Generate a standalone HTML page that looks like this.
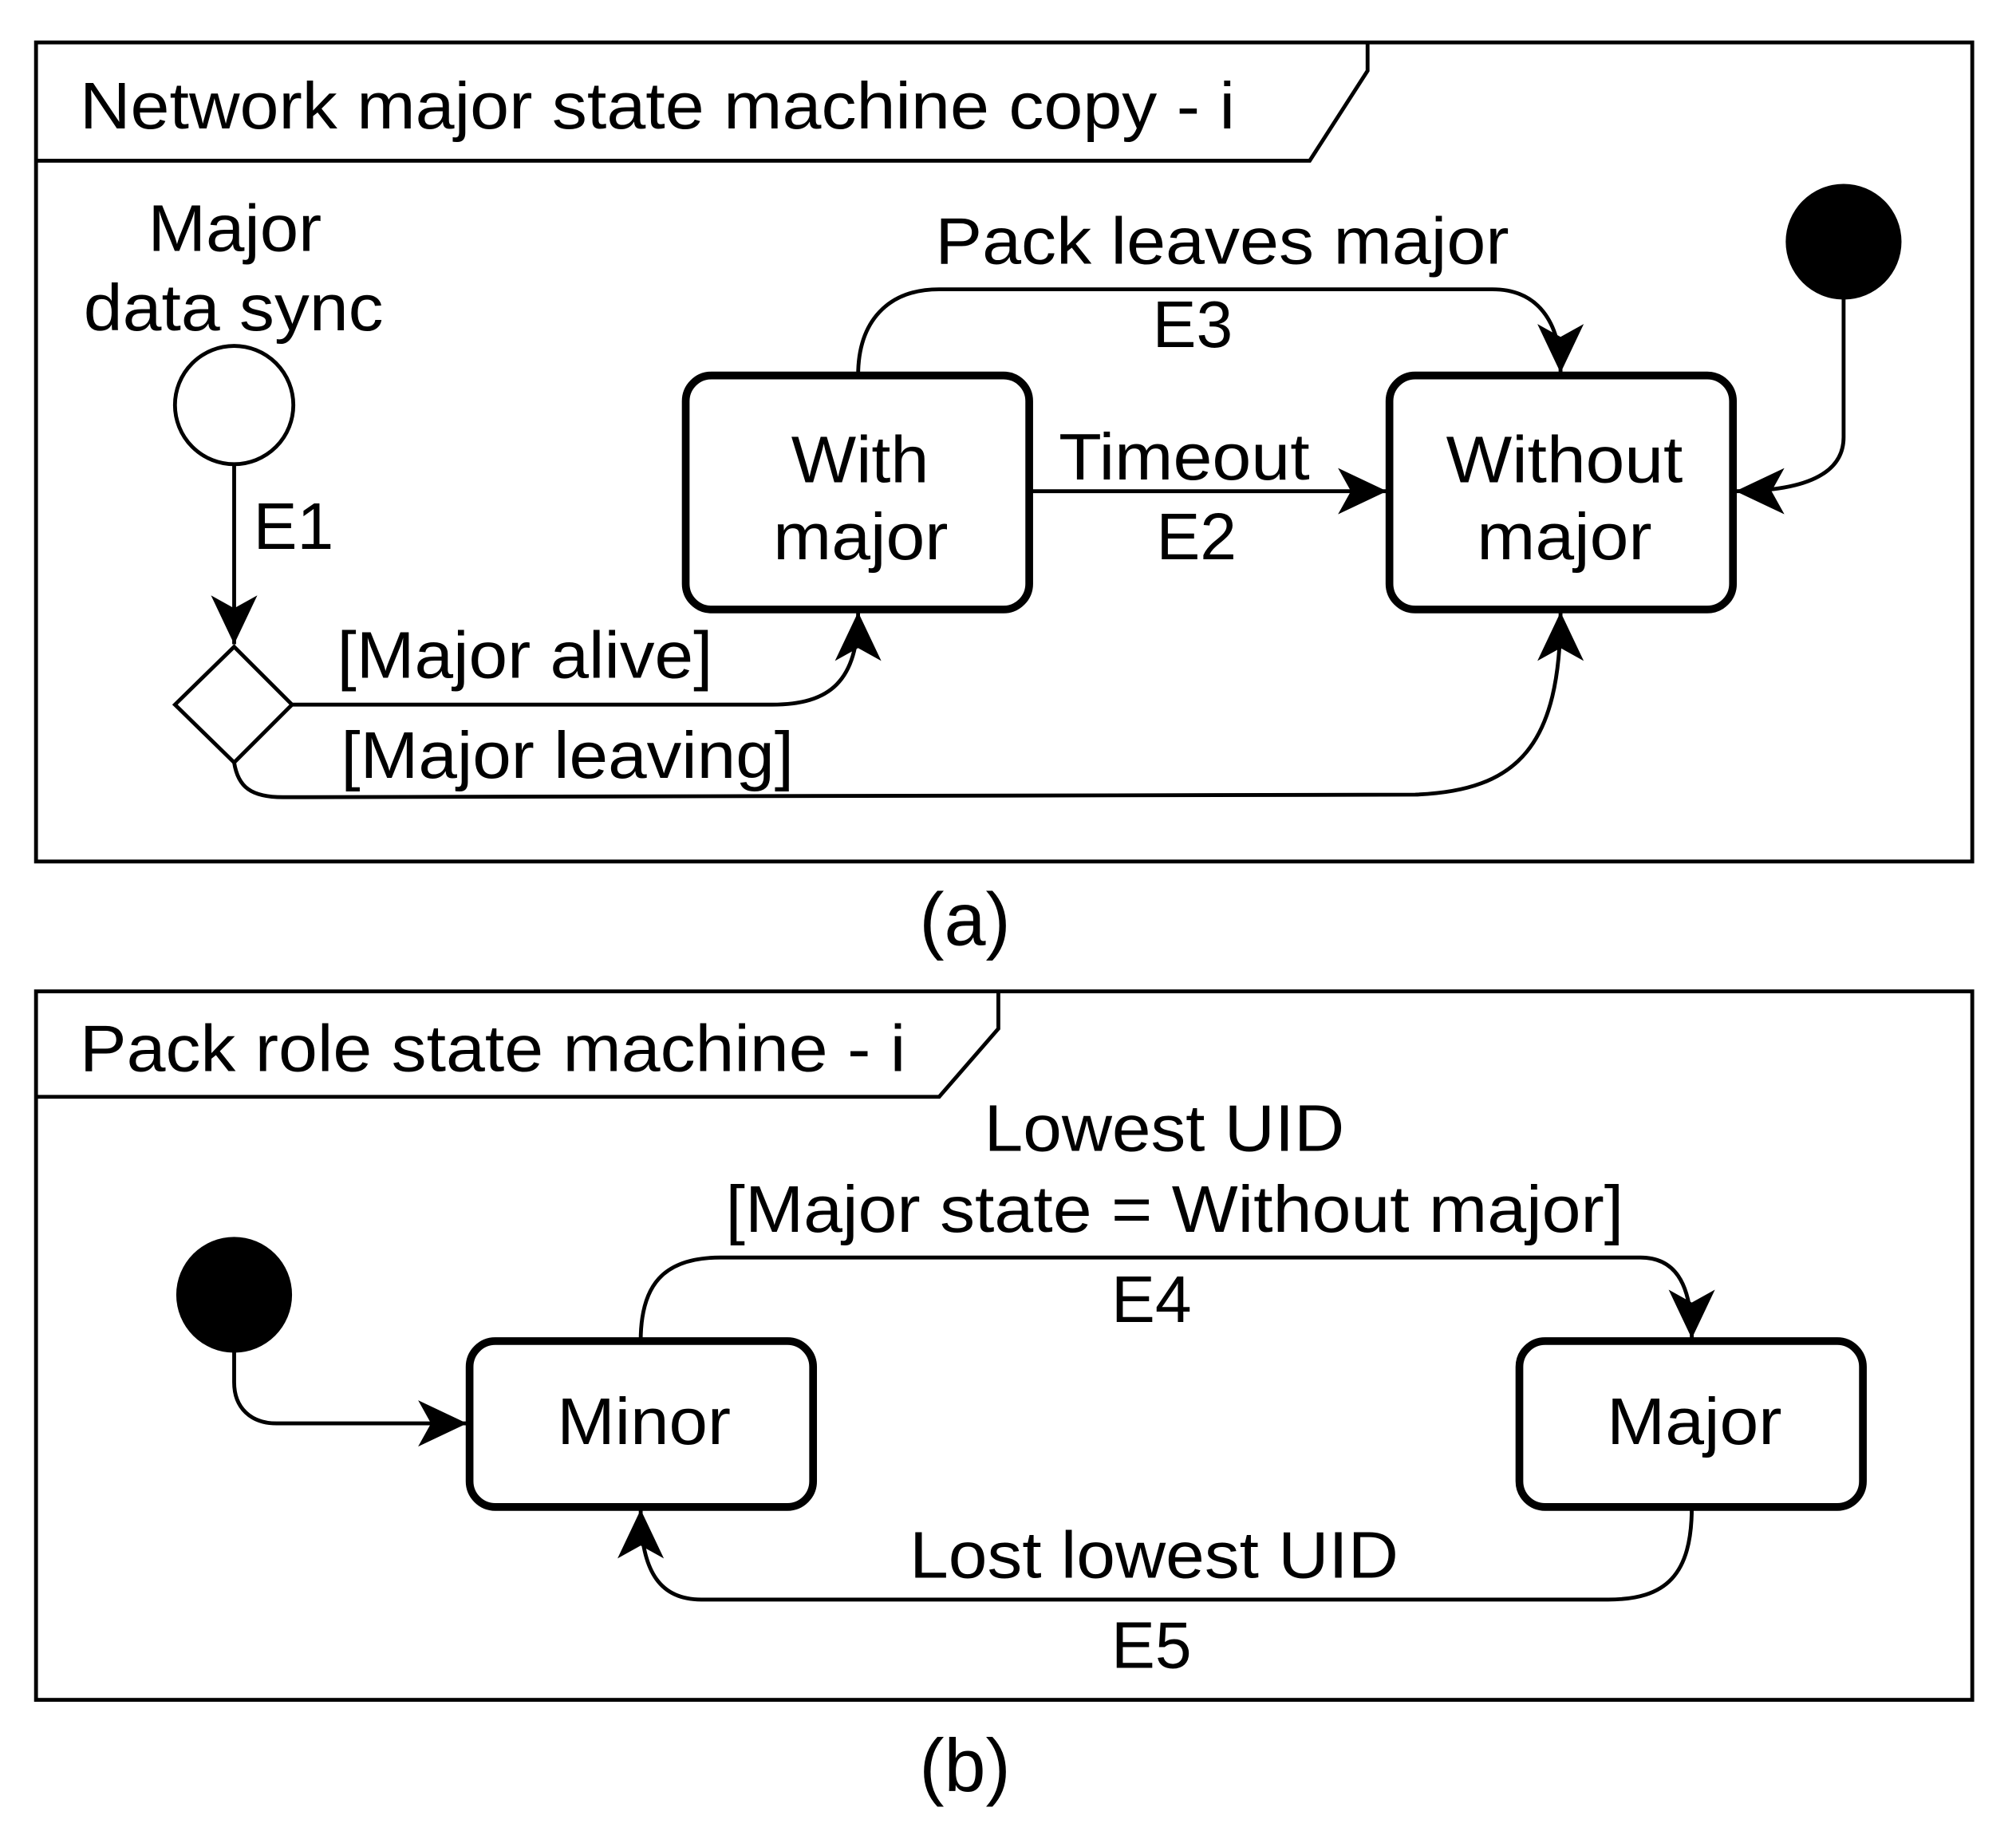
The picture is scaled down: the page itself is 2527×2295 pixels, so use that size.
<!DOCTYPE html>
<html><head><style>html,body{margin:0;padding:0;background:#fff}svg{display:block}</style></head>
<body>
<svg width="2527" height="2295" viewBox="0 0 1567 1424" preserveAspectRatio="none" xmlns="http://www.w3.org/2000/svg" font-family="Liberation Sans, sans-serif" font-size="51">
<defs>
<marker id="b" viewBox="0 0 40 40" refX="38" refY="20" markerWidth="40" markerHeight="40" markerUnits="userSpaceOnUse" orient="auto">
<path d="M0,2 L38,20 L0,38 L10,20 Z" fill="#000"/></marker>
</defs>
<g fill="none" stroke="#000">
<rect x="28" y="33" width="1505" height="637" stroke-width="3"/>
<path d="M28,125 L1018,125 L1063,55 L1063,33" stroke-width="3"/>
<circle cx="182" cy="315" r="46" stroke-width="3"/>
<path d="M182,361 L182,501" stroke-width="3" marker-end="url(#b)"/>
<path d="M182,503 L227,548 L182,593 L136,548 Z" stroke-width="3"/>
<rect x="533" y="292" width="267" height="182" rx="20" stroke-width="6"/>
<rect x="1080" y="292" width="267" height="182" rx="20" stroke-width="6"/>
<path d="M800,382 L1078,382" stroke-width="3" marker-end="url(#b)"/>
<path d="M667,292 C667,250 690,225 730,225 L1160,225 C1195,225 1213,250 1213,290" stroke-width="3" marker-end="url(#b)"/>
<path d="M1433,225 L1433,340 C1433,365 1410,382 1349,382" stroke-width="3" marker-end="url(#b)"/>
<path d="M227,548 L600,548 C645,548 667,530 667,476" stroke-width="3" marker-end="url(#b)"/>
<path d="M182,593 C185,612 195,620 220,620 L1100,618 C1180,615 1213,580 1213,476" stroke-width="3" marker-end="url(#b)"/>
<rect x="28" y="771" width="1505" height="551" stroke-width="3"/>
<path d="M28,853 L730,853 L776,800 L776,771" stroke-width="3"/>
<rect x="365" y="1043" width="267" height="129" rx="20" stroke-width="6"/>
<rect x="1181" y="1043" width="267" height="129" rx="20" stroke-width="6"/>
<path d="M182,1045 L182,1075 C182,1095 195,1107 215,1107 L363,1107" stroke-width="3" marker-end="url(#b)"/>
<path d="M498,1043 C498,1000 515,978 560,978 L1275,978 C1300,978 1315,995 1315,1041" stroke-width="3" marker-end="url(#b)"/>
<path d="M1315,1172 C1315,1225 1295,1244 1250,1244 L545,1244 C515,1244 498,1225 498,1174" stroke-width="3" marker-end="url(#b)"/>
</g>
<circle cx="1433" cy="188" r="45" fill="#000"/>
<circle cx="182" cy="1007" r="45" fill="#000"/>
<g fill="#000" lengthAdjust="spacingAndGlyphs">
<text x="62" y="100" textLength="898" lengthAdjust="spacingAndGlyphs">Network major state machine copy - i</text>
<text x="115" y="195" textLength="135" lengthAdjust="spacingAndGlyphs">Major</text>
<text x="65" y="257" textLength="233" lengthAdjust="spacingAndGlyphs">data sync</text>
<text x="197" y="427">E1</text>
<text x="615" y="375" textLength="107" lengthAdjust="spacingAndGlyphs">With</text>
<text x="601" y="435" textLength="136" lengthAdjust="spacingAndGlyphs">major</text>
<text x="1124" y="375" textLength="184" lengthAdjust="spacingAndGlyphs">Without</text>
<text x="1148" y="435" textLength="136" lengthAdjust="spacingAndGlyphs">major</text>
<text x="823" y="373" textLength="195" lengthAdjust="spacingAndGlyphs">Timeout</text>
<text x="930" y="435" text-anchor="middle">E2</text>
<text x="727" y="205" textLength="446" lengthAdjust="spacingAndGlyphs">Pack leaves major</text>
<text x="927" y="270" text-anchor="middle">E3</text>
<text x="262" y="527" textLength="292" lengthAdjust="spacingAndGlyphs">[Major alive]</text>
<text x="265" y="605" textLength="352" lengthAdjust="spacingAndGlyphs">[Major leaving]</text>
<text x="750" y="735" text-anchor="middle" font-size="58">(a)</text>
<text x="62" y="833" textLength="642" lengthAdjust="spacingAndGlyphs">Pack role state machine - i</text>
<text x="433" y="1123" textLength="135" lengthAdjust="spacingAndGlyphs">Minor</text>
<text x="1249" y="1123" textLength="136" lengthAdjust="spacingAndGlyphs">Major</text>
<text x="765" y="895" textLength="280" lengthAdjust="spacingAndGlyphs">Lowest UID</text>
<text x="564" y="958" textLength="698" lengthAdjust="spacingAndGlyphs">[Major state = Without major]</text>
<text x="895" y="1028" text-anchor="middle">E4</text>
<text x="707" y="1227" textLength="380" lengthAdjust="spacingAndGlyphs">Lost lowest UID</text>
<text x="895" y="1297" text-anchor="middle">E5</text>
<text x="750" y="1393" text-anchor="middle" font-size="58">(b)</text>
</g>
</svg>
</body></html>
